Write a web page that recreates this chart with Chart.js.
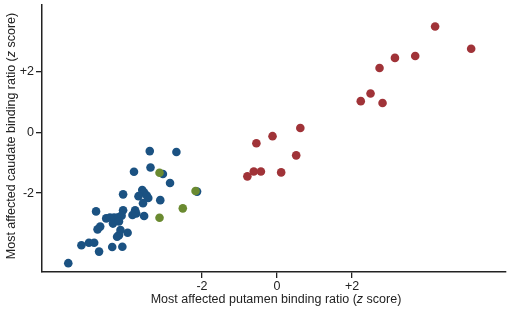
<!DOCTYPE html>
<html lang="en">
<head>
    <meta charset="UTF-8">
    <title>Caudate vs putamen binding ratio</title>
    <script src="https://cdn.jsdelivr.net/npm/chart.js"></script>
    <style>
        html, body {
            margin: 0;
            padding: 0;
            background: #fff;
        }
        .wrap {
            width: 510px;
            height: 309px;
        }
    </style>
</head>
<body>
    <div class="wrap"><canvas id="scatter"></canvas></div>
    <script>
        // Data (z scores)
        const tickValues = [-2, 0, 2];

        const blueX = [-3.39, -2.68, -3.37, -3.04, -3.81, -2.85, -2.13, -4.10, -3.59, -3.54,
                       -3.47, -3.43, -3.69, -3.57, -3.11, -4.10, -3.78, -3.75, -3.85, -3.54,
                       -4.82, -4.55, -4.45, -4.34, -4.23, -4.14, -4.37, -4.21, -4.71, -4.78,
                       -4.17, -4.21, -4.26, -3.98, -5.21, -5.01, -4.87, -4.74, -4.39, -4.12, -5.56];
        const blueY = [-0.62, -0.65, -1.16, -1.37, -1.30, -1.67, -1.95, -2.04, -1.90, -1.98,
                       -2.08, -2.16, -2.10, -2.33, -2.23, -2.56, -2.56, -2.67, -2.72, -2.75,
                       -2.60, -2.83, -2.80, -2.80, -2.79, -2.74, -3.00, -2.93, -3.10, -3.19,
                       -3.21, -3.38, -3.43, -3.30, -3.71, -3.63, -3.63, -3.92, -3.77, -3.76, -4.30];

        const greenX = [-3.13, -2.17, -2.51, -3.13];
        const greenY = [-1.33, -1.93, -2.50, -2.81];

        const redX = [4.21, 5.17, 3.68, 3.14, 2.73, 2.49, 2.23, 2.81, 0.62, -0.12,
                      -0.55, 0.51, -0.62, -0.43, 0.11, -0.79];
        const redY = [3.47, 2.74, 2.50, 2.44, 2.11, 1.27, 1.02, 0.96, 0.14, -0.13,
                      -0.36, -0.76, -1.29, -1.29, -1.32, -1.45];

        function toPoints(xs, ys) {
            return xs.map((x, i) => ({ x: x, y: ys[i] }));
        }

        const FONT = "'Liberation Sans', Arial, sans-serif";

        // draws the axis titles, with an italic "z"
        function drawMixed(ctx, parts, size) {
            let total = 0;
            parts.forEach(p => {
                ctx.font = (p.italic ? 'italic ' : '') + size + 'px ' + FONT;
                p.w = ctx.measureText(p.text).width;
                total += p.w;
            });
            let x = -total / 2;
            parts.forEach(p => {
                ctx.font = (p.italic ? 'italic ' : '') + size + 'px ' + FONT;
                ctx.fillText(p.text, x, 0);
                x += p.w;
            });
        }

        const axisTitles = {
            id: 'axisTitles',
            afterDraw(chart) {
                const ctx = chart.ctx;
                ctx.save();
                ctx.fillStyle = '#222';
                ctx.textBaseline = 'middle';
                ctx.textAlign = 'left';

                ctx.save();
                ctx.translate(276, 300);
                drawMixed(ctx, [
                    { text: 'Most affected putamen binding ratio (' },
                    { text: 'z', italic: true },
                    { text: ' score)' }
                ], 12.5);
                ctx.restore();

                ctx.save();
                ctx.translate(12, 136);
                ctx.rotate(-Math.PI / 2);
                drawMixed(ctx, [
                    { text: 'Most affected caudate binding ratio (' },
                    { text: 'z', italic: true },
                    { text: ' score)' }
                ], 12.5);
                ctx.restore();

                ctx.restore();
            }
        };

        function fixedTicks(scale) {
            scale.ticks = tickValues.map(v => ({ value: v }));
        }

        function tickLabel(v) {
            return v > 0 ? '+' + v : String(v);
        }

        function noPad(scale) {
            scale.paddingTop = 0;
            scale.paddingBottom = 0;
            scale.paddingLeft = 0;
            scale.paddingRight = 0;
        }

        new Chart(document.getElementById('scatter'), {
            type: 'scatter',
            data: {
                datasets: [
                    {
                        label: 'green',
                        data: toPoints(greenX, greenY),
                        backgroundColor: '#6a8a30',
                        pointRadius: 4.3,
                        borderWidth: 0
                    },
                    {
                        label: 'blue',
                        data: toPoints(blueX, blueY),
                        backgroundColor: '#1b5282',
                        pointRadius: 4.3,
                        borderWidth: 0
                    },
                    {
                        label: 'red',
                        data: toPoints(redX, redY),
                        backgroundColor: '#a03338',
                        pointRadius: 4.3,
                        borderWidth: 0
                    }
                ]
            },
            options: {
                responsive: true,
                maintainAspectRatio: false,
                animation: false,
                layout: {
                    padding: { top: 4, right: 4, left: 0, bottom: 0 }
                },
                plugins: {
                    legend: { display: false },
                    tooltip: { enabled: false }
                },
                scales: {
                    x: {
                        type: 'linear',
                        min: -6.26,
                        max: 6.09,
                        afterBuildTicks: fixedTicks,
                        afterFit(scale) { scale.height = 37; noPad(scale); },
                        border: { display: true, color: '#222', width: 1.5 },
                        grid: { display: true, drawOnChartArea: false, drawTicks: true, tickLength: 6, color: '#222', lineWidth: 1.3 },
                        ticks: {
                            padding: 1,
                            color: '#222',
                            font: { family: FONT, size: 12.5 },
                            callback: tickLabel
                        }
                    },
                    y: {
                        type: 'linear',
                        min: -4.59,
                        max: 4.2,
                        afterBuildTicks: fixedTicks,
                        afterFit(scale) { scale.width = 42; noPad(scale); },
                        border: { display: true, color: '#222', width: 1.5 },
                        grid: { display: true, drawOnChartArea: false, drawTicks: true, tickLength: 6, color: '#222', lineWidth: 1.3 },
                        ticks: {
                            padding: 2,
                            color: '#222',
                            font: { family: FONT, size: 12.5 },
                            callback: tickLabel
                        }
                    }
                }
            },
            plugins: [axisTitles]
        });
    </script>
</body>
</html>
